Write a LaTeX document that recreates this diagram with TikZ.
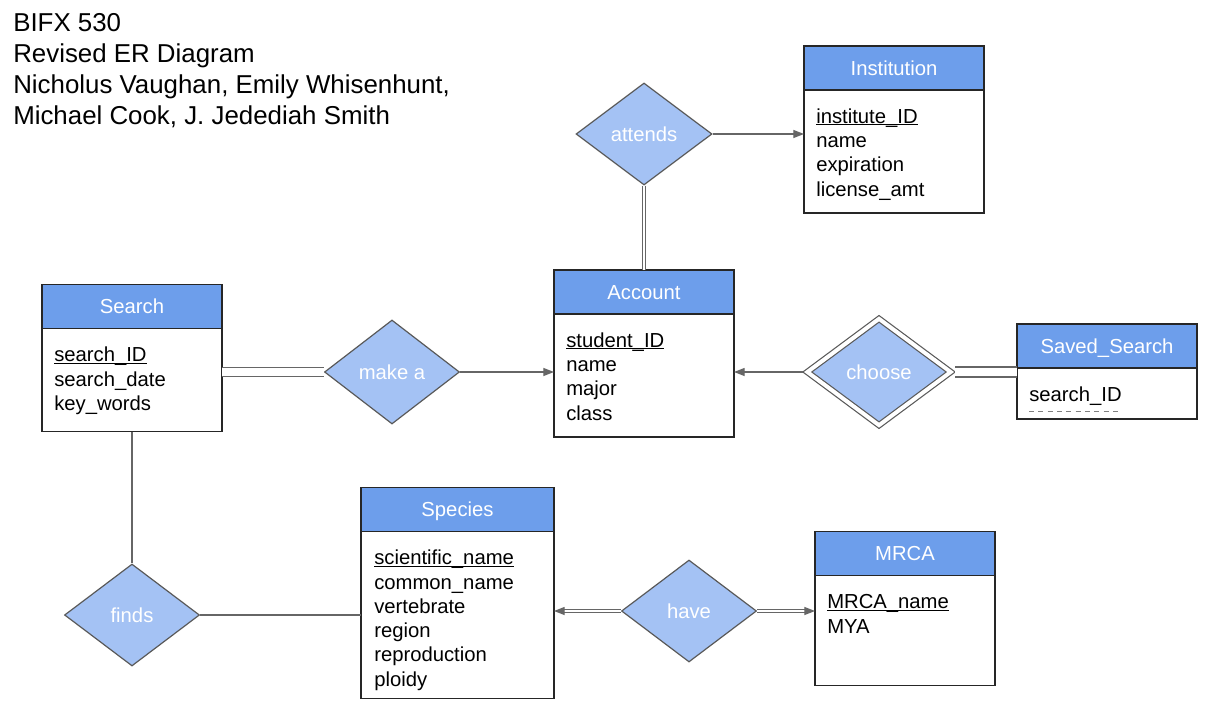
\documentclass[tikz,border=0pt]{standalone}
\usepackage{fontspec}
\setmainfont{Liberation Sans}
\usetikzlibrary{positioning,shapes.geometric,arrows.meta}

\definecolor{headblue}{HTML}{6D9EEB}
\definecolor{relblue}{HTML}{A4C2F4}
\definecolor{linegray}{HTML}{666666}
\definecolor{edgegray}{HTML}{595959}

% key attribute, underlined just below the baseline
\newcommand{\keyattr}[1]{\setbox0\hbox{#1}\rlap{\rule[-1.6pt]{\wd0}{0.8pt}}\box0}

\tikzset{
  enthead/.style={rectangle, draw=black!85, line width=1pt, fill=headblue, text=white,
    minimum width=135pt, minimum height=33pt, inner sep=0pt, outer sep=0pt,
    text height=10.8pt, text depth=0pt, font=\fontsize{15.2}{18}\selectfont},
  entbody/.style={rectangle, draw=black!85, line width=1pt, fill=white,
    minimum width=135pt, inner sep=0pt, outer sep=0pt},
  attrs/.style={anchor=north west, align=left, inner sep=0pt,
    font=\fontsize{15.2}{18.2}\selectfont},
  rel/.style={diamond, draw=edgegray, line width=0.9pt, fill=relblue, text=white,
    minimum width=102pt, minimum height=76.5pt, inner sep=0pt,
    font=\fontsize{15.2}{18}\selectfont},
  conn/.style={draw=linegray, line width=0.9pt},
  arr/.style={conn, -{Triangle[length=8pt,width=6pt]}},
  dbl/.style={conn, double=white, double distance=#1},
  dbl/.default=1.5pt,
}

\begin{document}
\begin{tikzpicture}[x=0.75pt,y=-0.75pt]
\useasboundingbox (0,0) rectangle (1217,713);

\node[anchor=north west, align=left, inner sep=0pt, font=\fontsize{19.4}{23.25}\selectfont] (title) at (13,10)
  {\strut BIFX 530\\Revised ER Diagram\\Nicholus Vaughan, Emily Whisenhunt,\\Michael Cook, J. Jedediah Smith};

% entities
\node[enthead] (inst) at (894,68) {Institution};
\node[entbody, minimum height=92.25pt, below=0pt of inst] (instbody) {};
\node[attrs] (instattr) at ([shift={(12,16)}]instbody.north west)
  {\strut\keyattr{institute\_ID}\\name\\expiration\\license\_amt};

\node[enthead] (acc) at (644,292) {Account};
\node[entbody, minimum height=92.25pt, below=0pt of acc] (accbody) {};
\node[attrs] (accattr) at ([shift={(12,16)}]accbody.north west)
  {\strut\keyattr{student\_ID}\\name\\major\\class};

\node[enthead] (search) at (132,306.5) {Search};
\node[entbody, minimum height=77.25pt, below=0pt of search] (searchbody) {};
\node[attrs] (searchattr) at ([shift={(12,16)}]searchbody.north west)
  {\strut\keyattr{search\_ID}\\search\_date\\key\_words};

\node[enthead] (ss) at (1107,346) {Saved\_Search};
\node[entbody, minimum height=38.25pt, below=0pt of ss] (ssbody) {};
\node[attrs] (ssattr) at ([shift={(12,16)}]ssbody.north west) {\strut search\_ID};
\draw[gray, line width=0.75pt, dash pattern=on 3.75pt off 3.25pt]
  ([yshift=-7.5pt]ssattr.base west) -- ([yshift=-7.5pt]ssattr.base east);

\node[enthead, minimum width=144.75pt] (sp) at (457.5,509.5) {Species};
\node[entbody, minimum width=144.75pt, minimum height=125.25pt, below=0pt of sp] (spbody) {};
\node[attrs] (spattr) at ([shift={(13,16)}]spbody.north west)
  {\strut\keyattr{scientific\_name}\\common\_name\\vertebrate\\region\\reproduction\\ploidy};

\node[enthead] (mrca) at (905,553.5) {MRCA};
\node[entbody, minimum height=82.5pt, below=0pt of mrca] (mrcabody) {};
\node[attrs] (mrcaattr) at ([shift={(12,16)}]mrcabody.north west)
  {\strut\keyattr{MRCA\_name}\\MYA};

% relationships
\node[rel] (attends) at (644,134) {attends};
\node[rel, minimum width=101.25pt, minimum height=78pt] (makea) at (392,372) {make a};
\node[rel, double=white, double distance=3pt, outer sep=2.4pt,
  minimum width=109.5pt, minimum height=81.75pt] (choose) at (879,372) {choose};
\node[rel, minimum width=101.25pt] (finds) at (132,615) {finds};
\node[rel, minimum width=101.25pt] (have) at (689,611) {have};

% connectors
\draw[dbl] (attends.south) -- (acc.north);
\draw[arr] (attends.east) -- (attends.east -| instbody.west);

\draw[dbl=5.5pt] (makea.west) -- (makea.west -| searchbody.east);
\draw[arr] (makea.east) -- (makea.east -| accbody.west);

\draw[arr] (choose.west) -- (choose.west -| accbody.east);
\draw[dbl=6.5pt] (choose.east) -- (choose.east -| ssbody.west);

\draw[conn] (searchbody.south) -- (finds.north);
\draw[conn] (finds.east) -- (finds.east -| spbody.west);

\draw[dbl, -{Triangle[length=8pt,width=6pt]}] (have.west) -- (have.west -| spbody.east);
\draw[dbl, -{Triangle[length=8pt,width=6pt]}] (have.east) -- (have.east -| mrcabody.west);

\end{tikzpicture}
\end{document}
